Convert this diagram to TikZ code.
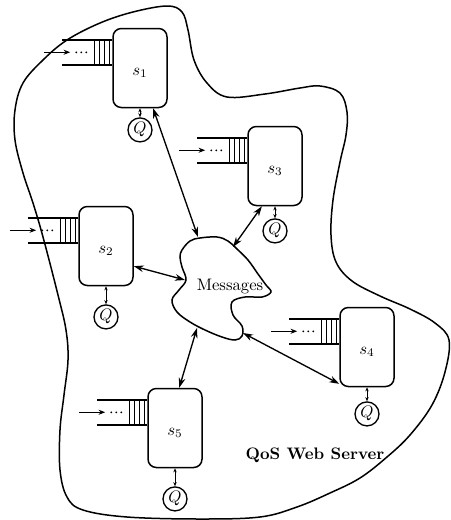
\documentclass[tikz,border=0pt]{standalone}
\usetikzlibrary{arrows.meta, positioning}
\tikzset{
    server/.style={
        rectangle,
        rounded corners=5pt,
        draw=black,
        line width=0.9pt,
        minimum width=32.4pt,
        minimum height=47.4pt,
        inner sep=0pt,
        text height=10pt
    },
    qnode/.style={
        circle,
        draw=black,
        line width=0.8pt,
        minimum size=14.4pt,
        inner sep=0pt
    },
    link/.style={
        line width=0.8pt,
        {Stealth[length=6pt,width=4pt]}-{Stealth[length=6pt,width=4pt]}
    },
    qlink/.style={
        line width=0.6pt,
        {Stealth[length=2.5pt,width=2pt]}-{Stealth[length=2.5pt,width=2pt]}
    },
    wall/.style={line width=0.9pt}
}
% input queue hanging off the left side of a server
\newcommand{\inqueue}[1]{%
  \begin{scope}[shift={(#1.north west)}]
    \draw[wall] (-50,12) -- (0,12);
    \draw[wall] (-50,37) -- (0,37);
    \foreach \i in {3,8,13,18}
        \draw[line width=0.6pt] (-\i,12) -- (-\i,37);
    \draw[line width=0.6pt,-{Stealth[length=4pt,width=3pt]}] (-68,24.5) -- (-42,24.5);
    \foreach \d in {-36,-31,-26}
        \fill (\d,24.5) circle (0.6pt);
  \end{scope}}

\begin{document}
\begin{tikzpicture}[x=0.6pt, y=-0.6pt]
\useasboundingbox (0,0) rectangle (451,520);

% outline of the web server
\draw[wall] plot[smooth cycle, tension=0.6] coordinates {
    (15,110) (23,83) (43,60) (67,40) (100,23) (133,12) (167,6) (182,12)
    (188,30) (194,60) (207,83) (227,97) (265,94) (300,88) (320,86) (340,93)
    (347,112) (346,135) (340,162) (333,200) (331,235) (336,262) (352,281)
    (380,296) (410,309) (435,323) (449,340) (445,372) (432,405) (410,435)
    (387,457) (360,478) (330,493) (297,507) (260,517) (200,519) (127,517)
    (83,510) (67,497) (60,470) (60,430) (64,395) (68,360) (66,330) (58,295)
    (43,237) (33,203) (23,173) (15,140)};

% servers
\node (s1) [server] at (140,68) {$s_1$};
\node (s3) [server] at (275,166) {$s_3$};
\node (s2) [server] at (106,246) {$s_2$};
\node (s4) [server] at (367,347) {$s_4$};
\node (s5) [server] at (175,428) {$s_5$};

\inqueue{s1}
\inqueue{s2}
\inqueue{s3}
\inqueue{s4}
\inqueue{s5}

% QoS modules
\node (q1) [qnode, below=5.4pt of s1] {$Q$};
\node (q3) [qnode, below=7.2pt of s3] {$Q$};
\node (q2) [qnode, below=10.8pt of s2] {$Q$};
\node (q4) [qnode, below=8.4pt of s4] {$Q$};
\node (q5) [qnode, below=10.8pt of s5] {$Q$};

\draw [qlink] (s1) -- (q1);
\draw [qlink] (s2) -- (q2);
\draw [qlink] (s3) -- (q3);
\draw [qlink] (s4) -- (q4);
\draw [qlink] (s5) -- (q5);

% message cloud
\draw[wall] plot[smooth cycle, tension=0.6] coordinates {
    (182,250) (190,241) (200,238) (217,237) (228,241) (237,249) (248,260)
    (258,274) (266,285) (271,292) (262,297) (245,297) (232,302) (233,315)
    (242,326) (242,336) (235,340) (222,337) (205,330) (190,322) (177,312)
    (172,300) (179,290) (186,280) (182,267) (180,257)};
\node (msg) at (230,287) {Messages};

\coordinate (m1) at (198,237);
\coordinate (m2) at (185,280);
\coordinate (m3) at (233,247);
\coordinate (m4) at (243,333);
\coordinate (m5) at (197,328);

\draw [link] (s1.-72) -- (m1);
\draw [link] (s2.-36) -- (m2);
\draw [link] (s3.-108) -- (m3);
\draw [link] (s4.-127) -- (m4);
\draw [link] (s5.84) -- (m5);

\node (title) at (315,455) {\textbf{QoS Web Server}};

\end{tikzpicture}
\end{document}
